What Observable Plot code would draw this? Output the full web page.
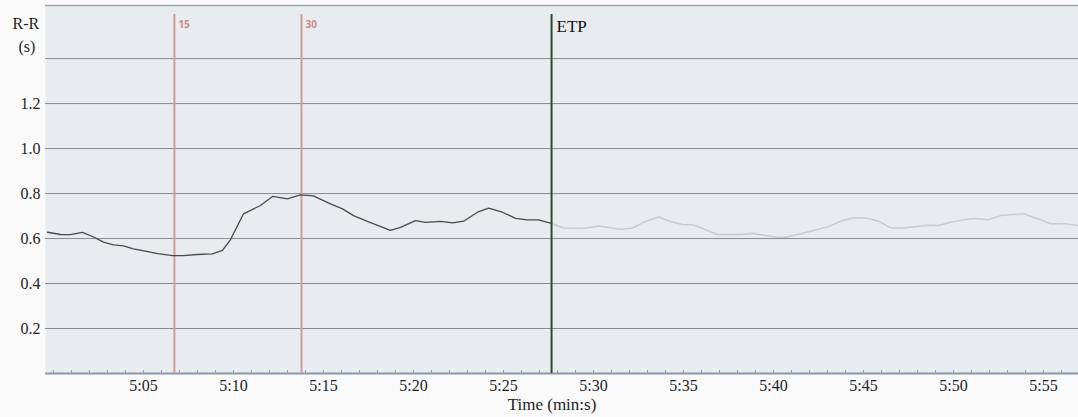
<!DOCTYPE html>
<html>
<head>
<meta charset="utf-8">
<script src="https://cdn.jsdelivr.net/npm/d3@7"></script>
<script src="https://cdn.jsdelivr.net/npm/@observablehq/plot@0.6"></script>
<style>
  html, body { margin: 0; padding: 0; background: #fafafa; }
  #chart svg { display: block; }
  #chart svg text { font-family: "Liberation Serif", "Times New Roman", Times, serif !important; }
  #chart svg text.marker-label { font-family: "Open Sans", "Liberation Sans", sans-serif !important; }
</style>
</head>
<body>
<div id="chart"></div>
<script>
// Time in seconds (300 = 5:00), R-R interval in seconds
const beforeTimes = [299.67,300.39,300.94,301.61,302.17,302.78,303.33,303.89,304.44,305.11,305.78,306.61,307.22,308.0,308.83,309.39,309.83,310.56,311.5,312.17,313.0,313.72,314.44,315.39,316.06,316.67,317.44,318.72,319.28,320.11,320.67,321.5,322.17,322.78,323.56,324.17,324.94,325.67,326.33,326.94,327.61];
const beforeRR = [0.628,0.618,0.617,0.627,0.609,0.584,0.572,0.567,0.554,0.544,0.533,0.524,0.524,0.529,0.532,0.547,0.594,0.71,0.747,0.787,0.776,0.794,0.79,0.754,0.732,0.702,0.676,0.636,0.65,0.68,0.672,0.676,0.67,0.677,0.717,0.735,0.717,0.69,0.683,0.683,0.668];
const afterTimes = [327.61,328.33,329.56,330.28,331.5,332.17,332.89,333.61,334.28,334.94,335.56,336.89,338.17,338.83,339.44,340.11,340.67,341.33,342.06,343.06,343.83,344.44,345.22,345.83,346.5,347.22,348.0,348.61,349.17,349.83,350.56,351.22,351.89,352.61,353.89,354.67,355.39,356.22,356.94];
const afterRR = [0.668,0.647,0.646,0.656,0.641,0.647,0.676,0.696,0.676,0.662,0.66,0.618,0.618,0.624,0.615,0.607,0.606,0.618,0.632,0.653,0.68,0.692,0.69,0.677,0.647,0.647,0.653,0.659,0.658,0.672,0.683,0.689,0.683,0.702,0.71,0.688,0.666,0.666,0.658];

const markerTimes = [306.72, 313.78];
const markerLabels = ["15", "30"];
const etpTime = 327.67;
const etpLabel = "ETP";

const xTicks = [305,310,315,320,325,330,335,340,345,350,355];
const yTickValues = [0.2,0.4,0.6,0.8,1.0,1.2];
const yGridValues = [0.2,0.4,0.6,0.8,1.0,1.2,1.4];
const minorTicks = d3.range(300, 357, 1);

const before = beforeTimes.map((t, i) => ({t, v: beforeRR[i]}));
const after = afterTimes.map((t, i) => ({t, v: afterRR[i]}));
const markers = markerTimes.map((t, i) => ({t, label: markerLabels[i]}));

const fmt = s => `${Math.floor(s / 60)}:${String(Math.round(s % 60)).padStart(2, "0")}`;
const yTop = 1.636;
const lineTop = 1.596;

const chart = Plot.plot({
  width: 1078,
  height: 417,
  marginLeft: 45,
  marginRight: 0,
  marginTop: 5,
  marginBottom: 44,
  style: { background: "#fafafa" },
  x: { domain: [299.56, 356.94] },
  y: { domain: [0, yTop] },
  marks: [
    Plot.frame({ fill: "#e9ecef", stroke: null }),
    Plot.ruleY([yTop], { stroke: "#a0a4a8", strokeWidth: 1.5 }),
    Plot.gridY(yGridValues, { stroke: "#8a8d90", strokeOpacity: 1, strokeWidth: 1 }),
    Plot.axisY(yTickValues, {
      tickSize: 0, tickPadding: 5, fontSize: 16, fill: "#222",
      tickFormat: d => d.toFixed(1), label: null
    }),
    Plot.text(["R-R"], { frameAnchor: "top-left", dx: -33, dy: 12, fontSize: 16, fill: "#222", textAnchor: "start" }),
    Plot.text(["(s)"], { frameAnchor: "top-left", dx: -27, dy: 35, fontSize: 16, fill: "#222", textAnchor: "start" }),
    Plot.ruleX(minorTicks, { y1: 0, y2: 0.013, stroke: "#8a9aac", strokeWidth: 1 }),
    Plot.ruleY([0], { stroke: "#8a9aac", strokeWidth: 2 }),
    Plot.axisX(xTicks, {
      tickSize: 0, tickPadding: 6, fontSize: 16, fill: "#222",
      tickFormat: fmt, label: null
    }),
    Plot.text(["Time (min:s)"], { frameAnchor: "bottom", dx: -10, dy: 36, fontSize: 17, fill: "#222" }),
    Plot.ruleX(markers, { x: "t", y1: 0, y2: lineTop, stroke: "#d49a9a", strokeWidth: 2 }),
    Plot.text(markers, { x: "t", y: lineTop, text: "label", dx: 4, dy: 10, textAnchor: "start", fontSize: 10, fontWeight: "bold", fill: "#c98a8a" }),
    Plot.line(after, { x: "t", y: "v", stroke: "#c9cbcd", strokeWidth: 1.5 }),
    Plot.line(before, { x: "t", y: "v", stroke: "#4a4a4a", strokeWidth: 1.3 }),
    Plot.ruleX([etpTime], { y1: 0, y2: lineTop, stroke: "#2e4a2e", strokeWidth: 2 }),
    Plot.text([etpLabel], { x: etpTime, y: lineTop, dx: 5, dy: 12, textAnchor: "start", fontSize: 17, fill: "#111" })
  ]
});
d3.select(chart).selectAll("text").filter(function () { return markerLabels.includes(this.textContent); }).classed("marker-label", true);
document.getElementById("chart").appendChild(chart);
</script>
</body>
</html>
